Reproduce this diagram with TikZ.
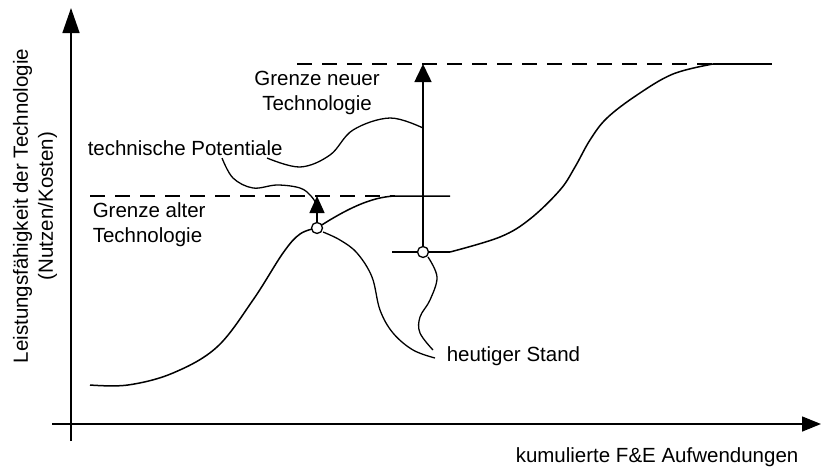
\documentclass[tikz,border=0pt]{standalone}
\usepackage{fontspec}
\setmainfont{Liberation Sans}
\usetikzlibrary{arrows.meta}
\begin{document}
\begin{tikzpicture}[x=1pt,y=-1pt, line width=1.5pt,
  lbl/.style={font=\fontsize{20.5}{25}\selectfont, inner sep=0pt},
  dot/.style={circle, draw, fill=white, minimum size=11pt, inner sep=0pt, line width=1.3pt},
  dashln/.style={dash pattern=on 15pt off 10pt},
  leader/.style={line width=1.3pt}]
\useasboundingbox (0,0) rectangle (821,471);
% axes
\coordinate (yb) at (71,441); \coordinate (yt) at (71,8);
\coordinate (xb) at (52,424); \coordinate (xt) at (821,424);
\draw[-{Triangle[length=25pt,width=17pt]}] (yb) -- (yt);
\draw[-{Triangle[length=19pt,width=15pt]}] (xb) -- (xt);
% dashed limits
\draw[dashln] (90,196) -- (395,196);
\draw[dashln] (297,64) -- (713,64);
% old curve
\draw plot[smooth, tension=0.6] coordinates {(90,385) (128,385) (173,373) (217,347) (253,300) (283,253) (300,234) (317,228)};
\draw (317,228) .. controls (345,210) and (370,197) .. (395,196) -- (450,196);
% new curve
\draw (392,252) -- (450,252);
\draw plot[smooth, tension=0.6] coordinates {(450,252) (500,237) (530,219) (560,190) (575,167) (590,140) (607,118) (637,95) (673,74) (713,64)};
\draw (713,64) -- (772,64);
% dots
\node[dot] (c1) at (317,228) {};
\node[dot] (c2) at (423,252) {};
\coordinate (a1) at (317,196);
\coordinate (a2) at (423,64);
\draw[-{Triangle[length=17pt,width=15pt]}] (c1.north) -- (a1);
\draw[-{Triangle[length=18pt,width=17pt]}] (c2.north) -- (a2);
% labels
\node[lbl, align=center] (gn) at (317,93) {Grenze neuer\\Technologie};
\node[lbl, anchor=west, align=left] (ga) at (92,225) {Grenze alter\\Technologie};
\node[lbl, anchor=west] (tp) at (87,148) {technische Potentiale};
\node[lbl, anchor=west] (hs) at (446,356) {heutiger Stand};
\node[lbl, anchor=west] (xl) at (515,457) {kumulierte F\&E Aufwendungen};
\node[lbl, rotate=90, align=center] (yl) at (35,206) {Leistungsfähigkeit der Technologie\\(Nutzen/Kosten)};
% leaders
\coordinate (tpa) at (222,158);
\coordinate (tpb) at (267,158);
\coordinate (l1e) at (317,205);
\coordinate (l2e) at (423,128);
\coordinate (hsa) at (435,358);
\coordinate (hsb) at (433,350);
\draw[leader] plot[smooth, tension=0.6] coordinates {(tpa) (233,178) (253,188) (277,185) (300,188) (311,196) (l1e)};
\draw[leader] plot[smooth, tension=0.6] coordinates {(tpb) (300,167) (330,155) (353,130) (390,118) (l2e)};
\draw[leader] plot[smooth, tension=0.6] coordinates {(323,232) (340,240) (357,253) (372,277) (380,310) (393,333) (413,350) (hsa)};
\draw[leader] plot[smooth, tension=0.6] coordinates {(428,257) (437,277) (430,300) (420,317) (420,333) (hsb)};
\end{tikzpicture}
\end{document}
